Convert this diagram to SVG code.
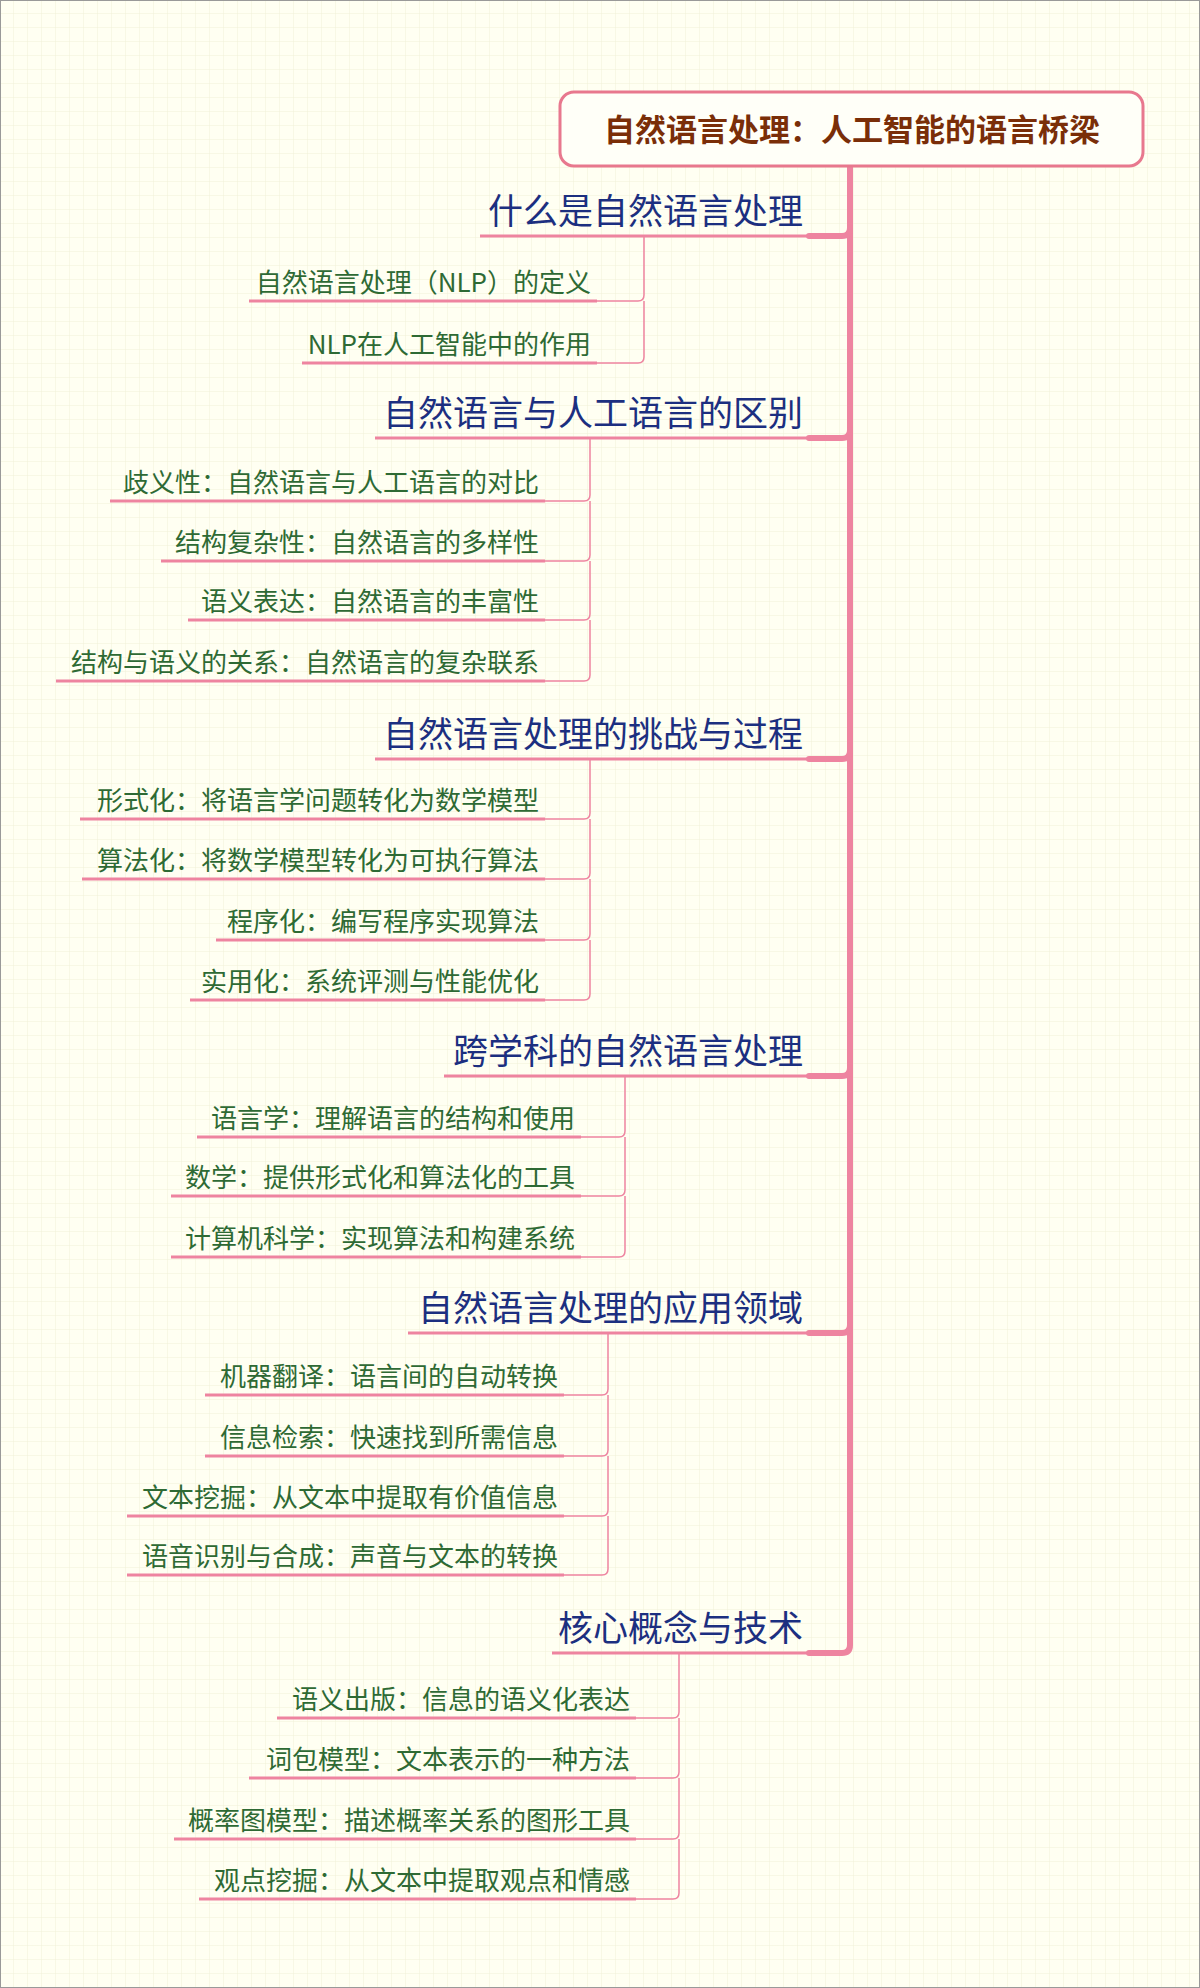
<svg xmlns="http://www.w3.org/2000/svg" width="1200" height="1988" viewBox="0 0 1200 1988">
<defs>
<pattern id="grid" width="14" height="14" patternUnits="userSpaceOnUse">
<path d="M14 0V14H0" fill="none" stroke="#f0f0d8" stroke-width="1"/>
</pattern>
<style>
.root{font-family:"Noto Sans CJK SC",sans-serif;font-size:31px;font-weight:bold;fill:#7a2e08}
.br{font-family:"Noto Sans CJK SC",sans-serif;font-size:35px;fill:#1c2f80}
.sub{font-family:"Noto Sans CJK SC",sans-serif;font-size:26px;fill:#2e6a34}
.ul{stroke:#ee84a0;stroke-width:3;fill:none}
.thin{stroke:#ee84a0;stroke-width:1.5;fill:none}
.thick{stroke:#ee84a0;stroke-width:6;fill:none;stroke-linecap:round}
</style>
</defs>
<rect width="1200" height="1988" fill="#fffff2"/>
<rect width="1200" height="1988" fill="url(#grid)"/>
<rect x="0.5" y="0.5" width="1199" height="1987" fill="none" stroke="#999" stroke-width="1"/>
<g id="connectors">
<path class="thick" d="M850 167V1645Q850 1653 842 1653H809"/>
<path class="thick" d="M850 228Q850 236 842 236H809M850 430Q850 438 842 438H809M850 751Q850 759 842 759H809M850 1068Q850 1076 842 1076H809M850 1325Q850 1333 842 1333H809"/>
<path class="ul" d="M480 236H809M375 438H809M375 759H809M444 1076H809M408 1333H809M552 1653H809"/>
<path class="thin" d="M644 236V295Q644 301 638 301H597M644 301V357Q644 363 638 363H597"/>
<path class="ul" d="M249 301H597M302 363H597"/>
<path class="thin" d="M590 438V495Q590 501 584 501H545M590 501V555Q590 561 584 561H545M590 561V614Q590 620 584 620H545M590 620V675Q590 681 584 681H545"/>
<path class="ul" d="M110 501H545M161 561H545M188 620H545M56 681H545"/>
<path class="thin" d="M590 759V813Q590 819 584 819H545M590 819V873Q590 879 584 879H545M590 879V934Q590 940 584 940H545M590 940V994Q590 1000 584 1000H545"/>
<path class="ul" d="M80 819H545M82 879H545M216 940H545M190 1000H545"/>
<path class="thin" d="M625 1076V1131Q625 1137 619 1137H581M625 1137V1190Q625 1196 619 1196H581M625 1196V1251Q625 1257 619 1257H581"/>
<path class="ul" d="M197 1137H581M171 1196H581M171 1257H581"/>
<path class="thin" d="M608 1333V1389Q608 1395 602 1395H564M608 1395V1450Q608 1456 602 1456H564M608 1456V1510Q608 1516 602 1516H564M608 1516V1569Q608 1575 602 1575H564"/>
<path class="ul" d="M205 1395H564M205 1456H564M127 1516H564M127 1575H564"/>
<path class="thin" d="M679 1653V1712Q679 1718 673 1718H636M679 1718V1772Q679 1778 673 1778H636M679 1778V1833Q679 1839 673 1839H636M679 1839V1893Q679 1899 673 1899H636"/>
<path class="ul" d="M277 1718H636M249 1778H636M174 1839H636M199 1899H636"/>
</g>
<g id="root"><rect x="560" y="92" width="583" height="74" rx="14" fill="#fffff8" stroke="#e8788e" stroke-width="3"/><text class="root" x="852" y="141" text-anchor="middle">自然语言处理：人工智能的语言桥梁</text></g>
<g id="b1"><text class="br" x="803" y="224" text-anchor="end">什么是自然语言处理</text></g>
<g id="b1s1"><text class="sub" x="591" y="292" text-anchor="end">自然语言处理（NLP）的定义</text></g>
<g id="b1s2"><text class="sub" x="591" y="354" text-anchor="end">NLP在人工智能中的作用</text></g>
<g id="b2"><text class="br" x="803" y="426" text-anchor="end">自然语言与人工语言的区别</text></g>
<g id="b2s1"><text class="sub" x="539" y="492" text-anchor="end">歧义性：自然语言与人工语言的对比</text></g>
<g id="b2s2"><text class="sub" x="539" y="552" text-anchor="end">结构复杂性：自然语言的多样性</text></g>
<g id="b2s3"><text class="sub" x="539" y="611" text-anchor="end">语义表达：自然语言的丰富性</text></g>
<g id="b2s4"><text class="sub" x="539" y="672" text-anchor="end">结构与语义的关系：自然语言的复杂联系</text></g>
<g id="b3"><text class="br" x="803" y="747" text-anchor="end">自然语言处理的挑战与过程</text></g>
<g id="b3s1"><text class="sub" x="539" y="810" text-anchor="end">形式化：将语言学问题转化为数学模型</text></g>
<g id="b3s2"><text class="sub" x="539" y="870" text-anchor="end">算法化：将数学模型转化为可执行算法</text></g>
<g id="b3s3"><text class="sub" x="539" y="931" text-anchor="end">程序化：编写程序实现算法</text></g>
<g id="b3s4"><text class="sub" x="539" y="991" text-anchor="end">实用化：系统评测与性能优化</text></g>
<g id="b4"><text class="br" x="803" y="1064" text-anchor="end">跨学科的自然语言处理</text></g>
<g id="b4s1"><text class="sub" x="575" y="1128" text-anchor="end">语言学：理解语言的结构和使用</text></g>
<g id="b4s2"><text class="sub" x="575" y="1187" text-anchor="end">数学：提供形式化和算法化的工具</text></g>
<g id="b4s3"><text class="sub" x="575" y="1248" text-anchor="end">计算机科学：实现算法和构建系统</text></g>
<g id="b5"><text class="br" x="803" y="1321" text-anchor="end">自然语言处理的应用领域</text></g>
<g id="b5s1"><text class="sub" x="558" y="1386" text-anchor="end">机器翻译：语言间的自动转换</text></g>
<g id="b5s2"><text class="sub" x="558" y="1447" text-anchor="end">信息检索：快速找到所需信息</text></g>
<g id="b5s3"><text class="sub" x="558" y="1507" text-anchor="end">文本挖掘：从文本中提取有价值信息</text></g>
<g id="b5s4"><text class="sub" x="558" y="1566" text-anchor="end">语音识别与合成：声音与文本的转换</text></g>
<g id="b6"><text class="br" x="803" y="1641" text-anchor="end">核心概念与技术</text></g>
<g id="b6s1"><text class="sub" x="630" y="1709" text-anchor="end">语义出版：信息的语义化表达</text></g>
<g id="b6s2"><text class="sub" x="630" y="1769" text-anchor="end">词包模型：文本表示的一种方法</text></g>
<g id="b6s3"><text class="sub" x="630" y="1830" text-anchor="end">概率图模型：描述概率关系的图形工具</text></g>
<g id="b6s4"><text class="sub" x="630" y="1890" text-anchor="end">观点挖掘：从文本中提取观点和情感</text></g>
</svg>
